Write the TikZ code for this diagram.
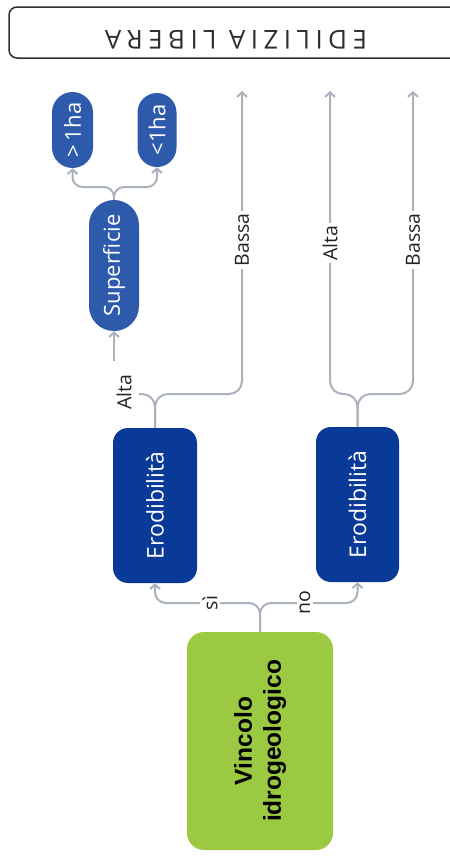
\documentclass[tikz,border=0pt]{standalone}
\usepackage{fontspec}
\setmainfont{Open Sans}
\newfontfamily\vinfont{Liberation Sans}
\newfontfamily\titlefont[LetterSpace=21]{Open Sans}
\usetikzlibrary{arrows.meta,calc}
\definecolor{darkblue}{HTML}{0A3A98}
\definecolor{midblue}{HTML}{2E5AAB}
\definecolor{leaf}{HTML}{9BC941}
\definecolor{conncol}{HTML}{AAB2BD}
\definecolor{framecol}{HTML}{2E2E2E}
\definecolor{labeltext}{HTML}{222222}
\tikzset{
  shapebox/.style={rotate=90, rounded corners=#1, inner sep=0pt, align=center},
  darkbox/.style={shapebox=15, fill=darkblue, text=white, font=\fontsize{23}{27}\selectfont},
  midbox/.style={shapebox=#1, fill=midblue, text=white, font=\fontsize{22}{26}\selectfont},
  conn/.style={draw=conncol, line width=2pt},
  arr/.style={conn, -{Straight Barb[length=4.5pt,width=10pt]}},
  lbl/.style={rotate=90, fill=white, inner sep=2.5pt, text=labeltext, font=\fontsize{19.5}{23}\selectfont},
}
\begin{document}
\begin{tikzpicture}[x=1pt,y=-1pt]
\useasboundingbox (0,0) rectangle (450,860);

% title frame
\draw[framecol, line width=1.5pt, rounded corners=8] (470,7) -- (9,7) -- (9,58) -- (470,58);
\node[rotate=180, inner sep=0pt, text=framecol, font=\titlefont\fontsize{26}{30}\selectfont] (title) at (236,40) {EDILIZIA LIBERA};

% nodes
\node[shapebox=17, fill=leaf, text=black, minimum width=218, minimum height=146,
      font=\vinfont\bfseries\fontsize{24.5}{29}\selectfont] (vin) at (260,741) {Vincolo\\idrogeologico};
\node[darkbox, minimum width=155, minimum height=84] (e1) at (155,505.5) {Erodibilità};
\node[darkbox, minimum width=155, minimum height=83] (e2) at (357.5,504.5) {Erodibilità};
\node[midbox=25, minimum width=131, minimum height=50] (sup) at (114,265.5) {Superficie};
\node[midbox=20.5, minimum width=76, minimum height=41] (g1) at (72.5,130) {>\,1ha};
\node[midbox=19.5, minimum width=74, minimum height=39] (l1) at (157,130) {<1ha};

% free ends
\coordinate (t1) at (242,91);
\coordinate (t2) at (330,91);
\coordinate (t3) at (413,91);
\coordinate (a1) at (114,361);

% connectors from Vincolo
\draw[arr, rounded corners=11] (vin.east) -- (260,603) -- (155,603) -- (e1.west);
\draw[arr, rounded corners=11] (vin.east) -- (260,603) -- (357.5,603) -- (e2.west);
\node[lbl] (si) at (210,603) {sì};
\node[lbl] (no) at (305,603) {no};

% connectors from Erodibilita 1
\draw[conn, rounded corners=13] (e1.east) -- (155,394) -- (139,394);
\draw[arr, rounded corners=13] (e1.east) -- (155,394) -- (242,394) -- (t1);
\node[lbl] (alta1) at (124,392) {Alta};
\draw[arr] (a1) -- (sup.west);
\node[lbl] (bassa1) at (242,240) {Bassa};

% connectors from Erodibilita 2
\draw[arr, rounded corners=13] (e2.east) -- (357.5,394) -- (330,394) -- (t2);
\draw[arr, rounded corners=13] (e2.east) -- (357.5,394) -- (413,394) -- (t3);
\node[lbl] (alta2) at (330,243) {Alta};
\node[lbl] (bassa2) at (413,240) {Bassa};

% connectors from Superficie
\draw[arr, rounded corners=10] (sup.east) -- (114,187) -- (72.5,187) -- (g1.west);
\draw[arr, rounded corners=10] (sup.east) -- (114,187) -- (157,187) -- (l1.west);
\end{tikzpicture}
\end{document}
